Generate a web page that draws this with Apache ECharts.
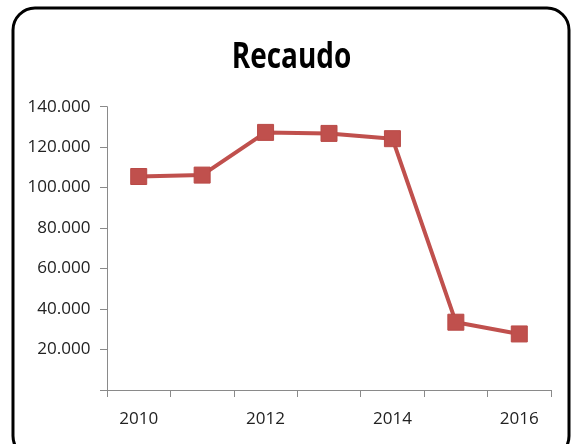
<!DOCTYPE html>
<html>
<head>
<meta charset="utf-8">
<script src="https://cdn.jsdelivr.net/npm/echarts@6/dist/echarts.min.js"></script>
<style>
html,body{margin:0;padding:0;background:#fff;}
#c{width:573px;height:444px;}
</style>
</head>
<body>
<div id="c"></div>
<script>
var titleText = 'Recaudo';
var years = ['2010','2011','2012','2013','2014','2015','2016'];
var recaudo = [105500, 106200, 127300, 126800, 124200, 33500, 27700];
var yMin = 0, yMax = 140000, yStep = 20000;

function fmt(v){
  if (v === 0) return '';
  var s = String(Math.round(v));
  return s.replace(/\B(?=(\d{3})+(?!\d))/g, '.');
}

var font = '"Open Sans", Lato, sans-serif';
var mctx = document.createElement('canvas').getContext('2d');
function textWidth(text, weight, size){
  mctx.font = weight + ' ' + size + 'px ' + font;
  return mctx.measureText(text).width;
}
var labelSize = Math.min(20, 100 * 63 / textWidth('140.000', 'normal', 100));
var titleSize = 35.5;
var titleScaleX = Math.min(1, 119.5 / textWidth(titleText, 'bold', titleSize));

var chart = echarts.init(document.getElementById('c'), null, {renderer:'canvas'});
chart.setOption({
  animation: false,
  backgroundColor: '#fff',
  graphic: [{
    type: 'rect',
    shape: {x: 13, y: 8, width: 556, height: 450, r: 22},
    style: {fill: 'none', stroke: '#000', lineWidth: 3},
    z: 100
  }, {
    type: 'text',
    x: 291.5,
    y: 57.5,
    scaleX: titleScaleX,
    scaleY: 1,
    style: {
      text: titleText,
      align: 'center',
      verticalAlign: 'middle',
      font: 'bold ' + titleSize + 'px ' + font,
      fill: '#000'
    },
    z: 100
  }],
  grid: {left: 107, right: 22, top: 106.7, bottom: 54, containLabel: false},
  xAxis: {
    type: 'category',
    data: years,
    boundaryGap: true,
    axisLine: {lineStyle: {color: '#8a8a8a', width: 1}},
    axisTick: {show: true, interval: 0, alignWithLabel: false, length: 7, lineStyle: {color: '#8a8a8a'}},
    axisLabel: {interval: 1, margin: 21, fontFamily: font, fontSize: labelSize, color: '#222'},
    splitLine: {show: false}
  },
  yAxis: {
    type: 'value',
    min: yMin, max: yMax, interval: yStep,
    axisLine: {show: true, lineStyle: {color: '#8a8a8a', width: 1}},
    axisTick: {show: true, length: 7, lineStyle: {color: '#8a8a8a'}},
    axisLabel: {formatter: fmt, margin: 16.5, padding: [3, 0, 0, 0], fontFamily: font, fontSize: labelSize, color: '#222'},
    splitLine: {show: false}
  },
  series: [{
    type: 'line',
    data: recaudo,
    symbol: 'rect',
    symbolSize: 16,
    lineStyle: {color: '#C0504D', width: 4},
    itemStyle: {color: '#C0504D', borderColor: '#B94A47', borderWidth: 1}
  }]
});
</script>
</body>
</html>
